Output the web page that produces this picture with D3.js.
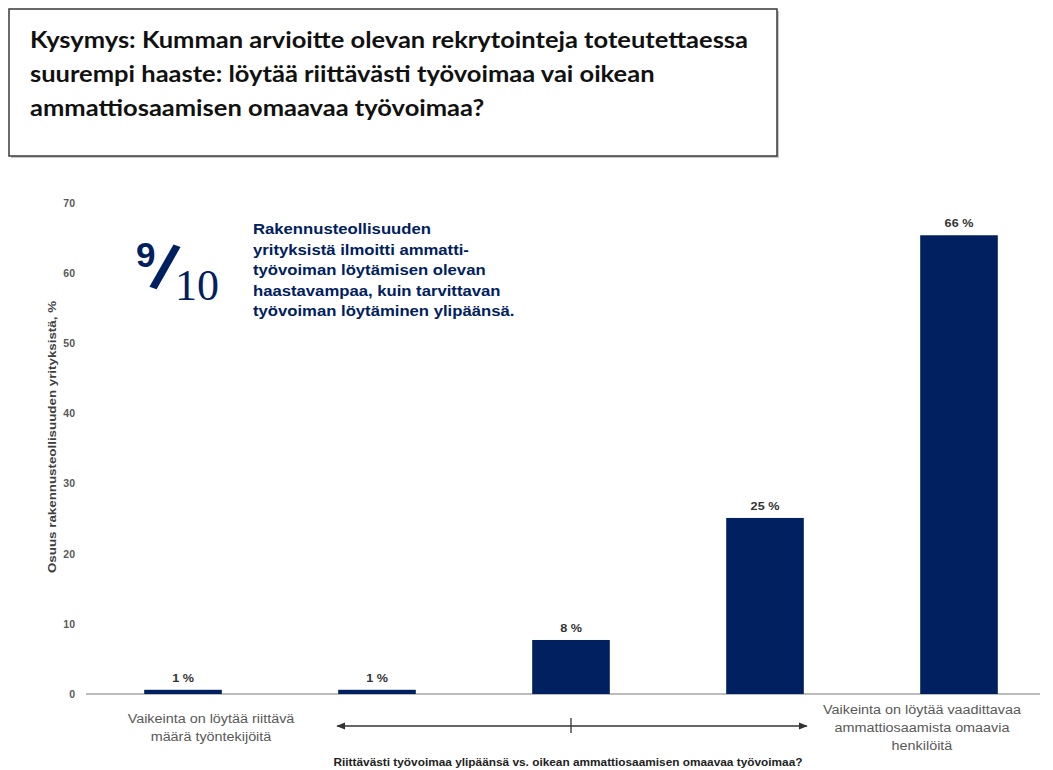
<!DOCTYPE html>
<html>
<head>
<meta charset="utf-8">
<script src="https://cdn.jsdelivr.net/npm/d3@7"></script>
<style>
  body { margin: 0; background: #fff; }
  svg { display: block; }
</style>
</head>
<body>
<svg id="chart" width="1053" height="770"></svg>
<script>
// data
var categories = ['1', '2', '3', '4', '5'];
var values = [0.6, 0.6, 7.7, 25.1, 65.4];
var valueLabels = ['1 %', '1 %', '8 %', '25 %', '66 %'];
var yTicks = [0, 10, 20, 30, 40, 50, 60, 70];

var titleLines = [
  'Kysymys: Kumman arvioitte olevan rekrytointeja toteutettaessa',
  'suurempi haaste: löytää riittävästi työvoimaa vai oikean',
  'ammattiosaamisen omaavaa työvoimaa?'
];
var noteLines = [
  'Rakennusteollisuuden',
  'yrityksistä ilmoitti ammatti-',
  'työvoiman löytämisen olevan',
  'haastavampaa, kuin tarvittavan',
  'työvoiman löytäminen ylipäänsä.'
];
var leftEndLines = ['Vaikeinta on löytää riittävä', 'määrä työntekijöitä'];
var rightEndLines = ['Vaikeinta on löytää vaadittavaa', 'ammattiosaamista omaavia', 'henkilöitä'];
var yTitle = 'Osuus rakennusteollisuuden yrityksistä, %';
var xTitle = 'Riittävästi työvoimaa ylipäänsä vs. oikean ammattiosaamisen omaavaa työvoimaa?';

var navy = '#002060';
var sans = '"Liberation Sans", Arial, sans-serif';
var svg = d3.select('#chart');

// the source text is a bit wider than the font at this height
function stretch(sel, k) {
  sel.each(function() {
    var w = this.getComputedTextLength();
    d3.select(this).attr('textLength', w * k).attr('lengthAdjust', 'spacingAndGlyphs');
  });
}

// title box
svg.append('rect')
  .attr('x', 11).attr('y', 11).attr('width', 768).attr('height', 147)
  .attr('fill', '#c8c8c8');
svg.append('rect')
  .attr('x', 9).attr('y', 9).attr('width', 768).attr('height', 147)
  .attr('fill', '#fff').attr('stroke', '#3a3a3a').attr('stroke-width', 1.5);

var title = svg.append('g')
  .attr('font-family', 'Lato, "Open Sans", sans-serif')
  .attr('font-weight', 'bold')
  .attr('font-size', 23)
  .attr('fill', '#111');
var tl = title.selectAll('text').data(titleLines).enter().append('text')
  .attr('x', 30)
  .attr('y', (d, i) => 48 + i * 34)
  .text(d => d);
stretch(tl, 718 / tl.node().getComputedTextLength());

// scales
var x = d3.scaleBand()
  .domain(categories)
  .range([86, 1056])
  .paddingInner(0.6)
  .paddingOuter(0.3);

var y = d3.scaleLinear()
  .domain([0, 70])
  .range([694, 203]);

// y axis (labels only)
var yAxis = svg.append('g')
  .attr('transform', 'translate(79, 0)')
  .call(d3.axisLeft(y).tickValues(yTicks).tickSize(0).tickPadding(4));
yAxis.select('.domain').remove();
yAxis.selectAll('text')
  .attr('font-family', sans)
  .attr('font-weight', 'bold')
  .attr('font-size', 10.5)
  .attr('fill', '#595959');

var yt = svg.append('text')
  .attr('transform', 'translate(56, 437) rotate(-90)')
  .attr('text-anchor', 'middle')
  .attr('font-family', sans)
  .attr('font-weight', 'bold')
  .attr('font-size', 11)
  .attr('fill', '#404040')
  .text(yTitle);
yt.attr('textLength', 272).attr('lengthAdjust', 'spacingAndGlyphs');

// baseline
svg.append('line')
  .attr('x1', 86).attr('x2', 1040)
  .attr('y1', y(0)).attr('y2', y(0))
  .attr('stroke', '#a6a6a6').attr('stroke-width', 1.5);

// bars
svg.selectAll('.bar')
  .data(values)
  .enter()
  .append('rect')
  .attr('class', 'bar')
  .attr('x', (d, i) => x(categories[i]))
  .attr('y', d => y(d))
  .attr('width', x.bandwidth())
  .attr('height', d => y(0) - y(d))
  .attr('fill', navy);

var vl = svg.selectAll('.val')
  .data(values)
  .enter()
  .append('text')
  .attr('class', 'val')
  .attr('x', (d, i) => x(categories[i]) + x.bandwidth() / 2)
  .attr('y', d => y(d) - 8)
  .attr('text-anchor', 'middle')
  .attr('font-family', sans)
  .attr('font-weight', 'bold')
  .attr('font-size', 10.5)
  .attr('fill', '#333')
  .text((d, i) => valueLabels[i]);
stretch(vl, 1.2);

// 9/10 note
var frac = svg.append('g')
  .attr('fill', navy);
frac.append('text')
  .attr('x', 136).attr('y', 267)
  .attr('font-family', sans)
  .attr('font-weight', 'bold')
  .attr('font-size', 35)
  .text('9');
frac.append('text')
  .attr('transform', 'translate(165, 267) rotate(19)')
  .attr('text-anchor', 'middle')
  .attr('dy', '0.35em')
  .attr('font-family', sans)
  .attr('font-weight', 'bold')
  .attr('font-size', 64)
  .text('/');
frac.append('text')
  .attr('x', 175).attr('y', 300)
  .attr('font-family', '"Liberation Serif", "DejaVu Serif", serif')
  .attr('font-size', 44)
  .text('10');

var nl = svg.append('g')
  .attr('font-family', sans)
  .attr('font-weight', 'bold')
  .attr('font-size', 14.5)
  .attr('fill', navy)
  .selectAll('text')
  .data(noteLines)
  .enter()
  .append('text')
  .attr('x', 253)
  .attr('y', (d, i) => 234 + i * 20.5)
  .text(d => d);
stretch(nl, 1.15);

// end labels
var endFont = g => g
  .attr('font-family', sans)
  .attr('font-size', 12.5)
  .attr('fill', '#595959')
  .attr('text-anchor', 'middle');

var le = svg.append('g').call(endFont)
  .selectAll('text').data(leftEndLines).enter().append('text')
  .attr('x', 211)
  .attr('y', (d, i) => 723 + i * 18)
  .text(d => d);
stretch(le, 1.15);

var re = svg.append('g').call(endFont)
  .selectAll('text').data(rightEndLines).enter().append('text')
  .attr('x', 922)
  .attr('y', (d, i) => 714 + i * 18)
  .text(d => d);
stretch(re, 1.15);

// double arrow between the end labels
var defs = svg.append('defs');
defs.append('marker')
  .attr('id', 'head')
  .attr('viewBox', '0 0 10 10')
  .attr('refX', 9).attr('refY', 5)
  .attr('markerWidth', 9).attr('markerHeight', 9)
  .attr('markerUnits', 'userSpaceOnUse')
  .attr('orient', 'auto-start-reverse')
  .append('path')
  .attr('d', 'M0,1 L10,5 L0,9 Z')
  .attr('fill', '#333');

var ax1 = x(categories[1]) - 1;
var ax2 = x(categories[3]) + x.bandwidth() + 3;
var axMid = x(categories[2]) + x.bandwidth() / 2;
svg.append('line')
  .attr('x1', ax1).attr('x2', ax2)
  .attr('y1', 726).attr('y2', 726)
  .attr('stroke', '#333').attr('stroke-width', 1.3)
  .attr('marker-start', 'url(#head)')
  .attr('marker-end', 'url(#head)');
svg.append('line')
  .attr('x1', axMid).attr('x2', axMid)
  .attr('y1', 718).attr('y2', 733)
  .attr('stroke', '#333').attr('stroke-width', 1.3);

var xt = svg.append('text')
  .attr('x', axMid - 3)
  .attr('y', 766)
  .attr('text-anchor', 'middle')
  .attr('font-family', sans)
  .attr('font-weight', 'bold')
  .attr('font-size', 10.5)
  .attr('fill', '#222')
  .text(xTitle);
xt.attr('textLength', 469).attr('lengthAdjust', 'spacingAndGlyphs');
</script>
</body>
</html>
